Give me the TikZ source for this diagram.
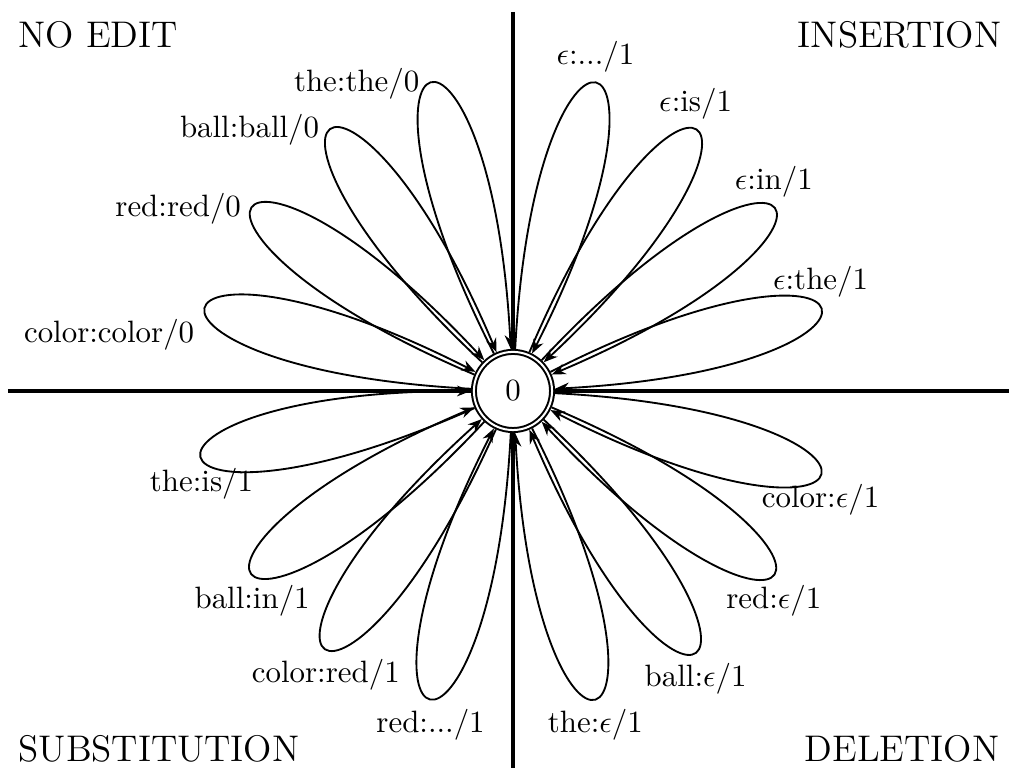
\documentclass[tikz,border=0pt]{standalone}
\usepackage{amsmath,amssymb}
\usetikzlibrary{arrows.meta}

\begin{document}
\begin{tikzpicture}[
  font=\normalsize,
  accstate/.style={circle, draw, double, fill=white, line width=0.65pt,
                   double distance=0.65pt, minimum size=0.889cm,
                   inner sep=0pt, outer sep=0.975pt},
  arr/.style={-{Stealth[length=4.5pt, width=3.5pt]}, line width=0.6pt},
  axis/.style={line width=1.3pt},
  quad/.style={font=\large, inner sep=0pt},
  petal/.style={distance=4.3cm}
]
  \useasboundingbox (-5.836,-4.278) rectangle (5.643,4.448);

  % quadrant axes
  \coordinate (axtop) at (0,4.312);
  \coordinate (axbot) at (0,-4.4);
  \coordinate (axlft) at (-5.745,0);
  \coordinate (axrgt) at (5.8,0);
  \draw[axis] (axtop) -- (axbot);
  \draw[axis] (axlft) -- (axrgt);

  \node[accstate] (q0) at (0,0) {0};

  % quadrant titles
  \node[quad, anchor=base west] (noedit) at (-5.631,3.902) {NO EDIT};
  \node[quad, anchor=base east] (ins) at (5.563,3.902) {INSERTION};
  \node[quad, anchor=base west] (subst) at (-5.631,-4.22) {SUBSTITUTION};
  \node[quad, anchor=base east] (del) at (5.54,-4.22) {DELETION};

  % no edit
  \draw[arr] (q0) to[petal, out=117, in=93] node[left] {the:the/0} (q0);
  \draw[arr] (q0) to[petal, out=137, in=113] node[left] {ball:ball/0} (q0);
  \draw[arr] (q0) to[petal, out=157, in=133] node[left] {red:red/0} (q0);
  \draw[arr] (q0) to[petal, out=177, in=153] node[below left] {color:color/0} (q0);

  % insertion
  \draw[arr] (q0) to[petal, out=87, in=63] node[above] {$\epsilon$:.../1} (q0);
  \draw[arr] (q0) to[petal, out=67, in=43] node[above] {$\epsilon$:is/1} (q0);
  \draw[arr] (q0) to[petal, out=47, in=23] node[above] {$\epsilon$:in/1} (q0);
  \draw[arr] (q0) to[petal, out=27, in=3] node[above] {$\epsilon$:the/1} (q0);

  % substitution
  \draw[arr] (q0) to[petal, out=204, in=180] node[below] {the:is/1} (q0);
  \draw[arr] (q0) to[petal, out=227, in=203] node[below] {ball:in/1} (q0);
  \draw[arr] (q0) to[petal, out=246, in=222] node[below] {color:red/1} (q0);
  \draw[arr] (q0) to[petal, out=267, in=243] node[below] {red:.../1} (q0);

  % deletion
  \draw[arr] (q0) to[petal, out=297, in=273] node[below] {the:$\epsilon$/1} (q0);
  \draw[arr] (q0) to[petal, out=317, in=293] node[below] {ball:$\epsilon$/1} (q0);
  \draw[arr] (q0) to[petal, out=337, in=313] node[below] {red:$\epsilon$/1} (q0);
  \draw[arr] (q0) to[petal, out=357, in=333] node[below] {color:$\epsilon$/1} (q0);
\end{tikzpicture}
\end{document}
